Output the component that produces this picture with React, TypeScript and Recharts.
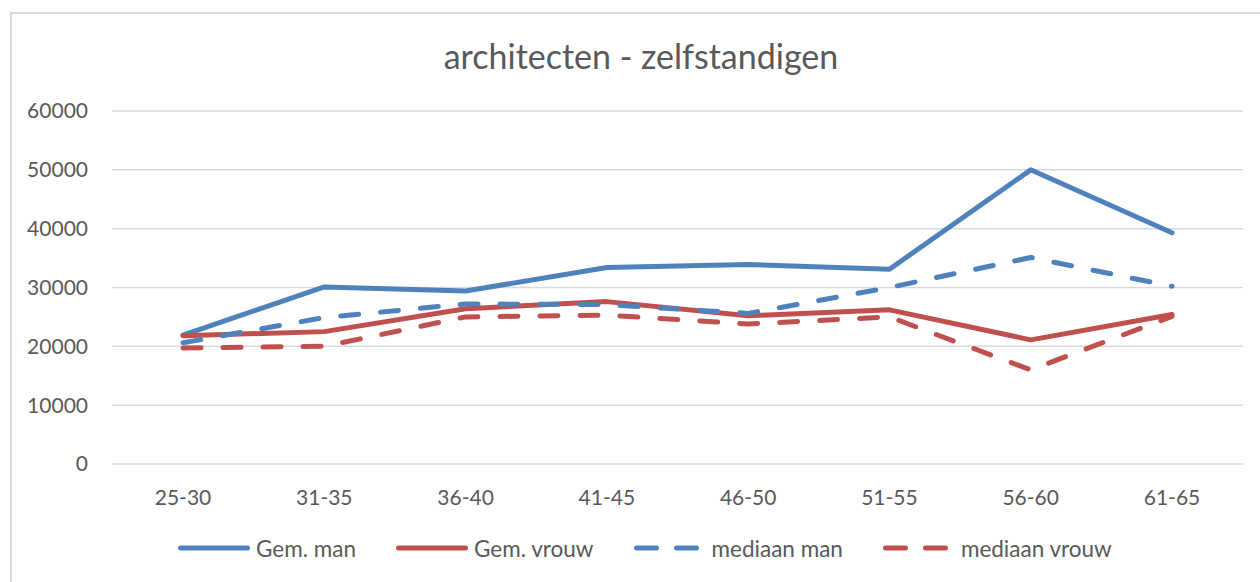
import { LineChart, Line, XAxis, YAxis, CartesianGrid } from "recharts";

const categories = ["25-30", "31-35", "36-40", "41-45", "46-50", "51-55", "56-60", "61-65"];
const gemMan = [21900, 30100, 29400, 33400, 33900, 33100, 50000, 39300];
const gemVrouw = [21800, 22500, 26400, 27600, 25200, 26200, 21100, 25400];
const mediaanMan = [20600, 24900, 27200, 27100, 25600, 30000, 35100, 30200];
const mediaanVrouw = [19700, 20000, 25000, 25300, 23800, 25000, 16000, 25100];
const yTicks = [0, 10000, 20000, 30000, 40000, 50000, 60000];

const BLUE = "#4F81BD";
const RED = "#C0504D";
const TEXT = "#595959";
const FONT = "Lato, 'Open Sans', sans-serif";

const series = [
  { key: "gemMan", name: "Gem. man", color: BLUE, dashed: false },
  { key: "gemVrouw", name: "Gem. vrouw", color: RED, dashed: false },
  { key: "mediaanMan", name: "mediaan man", color: BLUE, dashed: true },
  { key: "mediaanVrouw", name: "mediaan vrouw", color: RED, dashed: true },
];

const data = categories.map((c, i) => ({
  cat: c,
  gemMan: gemMan[i],
  gemVrouw: gemVrouw[i],
  mediaanMan: mediaanMan[i],
  mediaanVrouw: mediaanVrouw[i],
}));

const DASH = "18 22";

export default function App() {
  return (
    <div style={{ position: "fixed", left: 0, top: 0, width: 1260, height: 582, background: "#fff", fontFamily: FONT }}>
      {/* chart frame, only top + left edges are visible */}
      <div
        style={{
          position: "absolute",
          left: 10,
          top: 12,
          width: 1250,
          height: 570,
          borderLeft: "2px solid #d9d9d9",
          borderTop: "2px solid #d9d9d9",
          boxSizing: "border-box",
        }}
      />

      <div
        style={{
          position: "absolute",
          left: 0,
          top: 34,
          width: 1282,
          textAlign: "center",
          fontSize: 34,
          color: TEXT,
          lineHeight: "44px",
        }}
      >
        architecten - zelfstandigen
      </div>

      <div style={{ position: "absolute", left: 0, top: 0 }}>
        <LineChart width={1260} height={582} data={data} margin={{ top: 111, right: 17, bottom: 88, left: 0 }}>
          <CartesianGrid vertical={false} stroke="#d9d9d9" strokeWidth={1.5} />
          <XAxis
            dataKey="cat"
            axisLine={false}
            tickLine={false}
            tickSize={0}
            tickMargin={26}
            padding={{ left: 71, right: 71 }}
            tick={{ fill: TEXT, fontSize: 21, fontFamily: FONT }}
          />
          <YAxis
            width={112}
            domain={[0, 60000]}
            ticks={yTicks}
            axisLine={false}
            tickLine={false}
            tickSize={0}
            tickMargin={24}
            tick={{ fill: TEXT, fontSize: 21, fontFamily: FONT }}
          />
          {series.map((s) => (
            <Line
              key={s.key}
              dataKey={s.key}
              name={s.name}
              stroke={s.color}
              strokeWidth={5}
              strokeDasharray={s.dashed ? DASH : undefined}
              strokeLinecap="round"
              strokeLinejoin="round"
              dot={false}
              activeDot={false}
              type="linear"
              isAnimationActive={false}
            />
          ))}
        </LineChart>
      </div>

      <div
        style={{
          position: "absolute",
          left: 178,
          top: 534,
          height: 28,
          display: "flex",
          alignItems: "center",
          gap: 40,
          fontSize: 22.5,
          color: TEXT,
        }}
      >
        {series.map((s) => (
          <div key={s.key} style={{ display: "flex", alignItems: "center" }}>
            <svg width={72} height={14}>
              <line
                x1={2.5}
                y1={7}
                x2={69.5}
                y2={7}
                stroke={s.color}
                strokeWidth={5}
                strokeLinecap="round"
                strokeDasharray={s.dashed ? "20 20" : undefined}
              />
            </svg>
            <span style={{ marginLeft: 6 }}>{s.name}</span>
          </div>
        ))}
      </div>
    </div>
  );
}
